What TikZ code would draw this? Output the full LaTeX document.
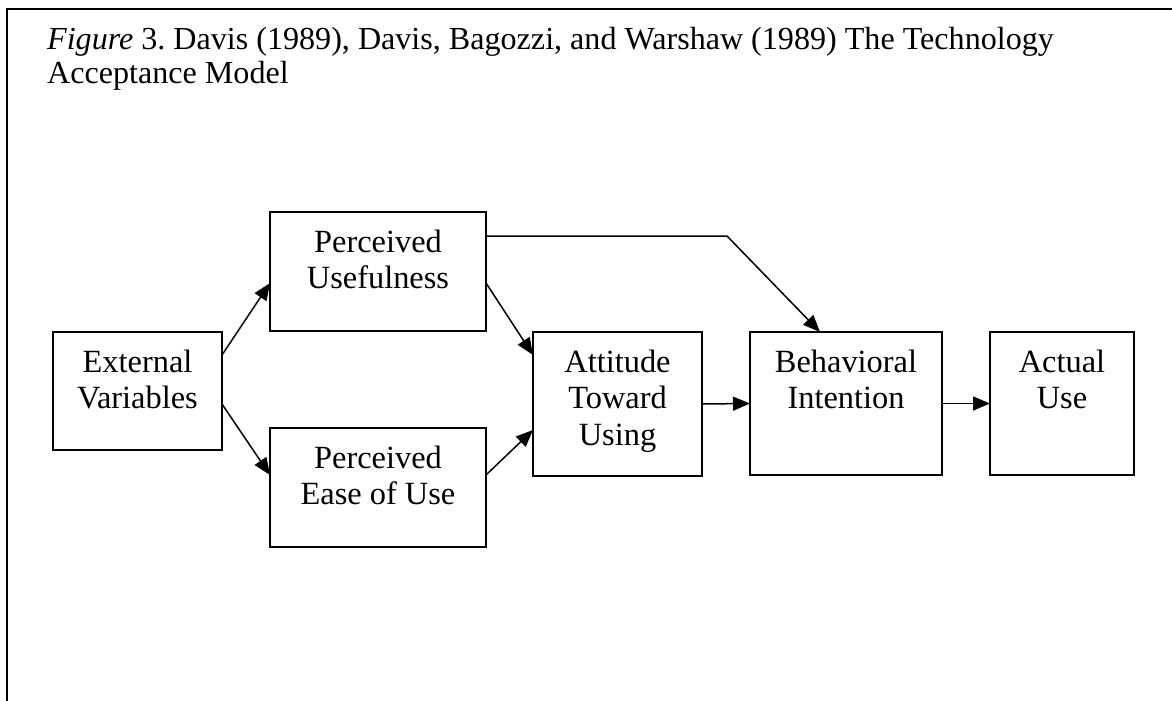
\documentclass[tikz,border=0pt]{standalone}
\usepackage{fontspec}
\setmainfont{Liberation Serif}
\usetikzlibrary{arrows.meta}
\frenchspacing
% fixed height for the first line of every text block, so baselines sit at known places
\newcommand\toprow{\rule{0pt}{25pt}}
\begin{document}
\begin{tikzpicture}[x=1pt,y=-1pt,
  box/.style={draw, line width=1.5pt, inner sep=0pt, outer sep=0pt},
  lbl/.style={font=\fontsize{32.4}{36.5}\selectfont, align=center, inner sep=0pt, anchor=north},
  caption/.style={font=\fontsize{32.1}{34}\selectfont, align=left, inner sep=0pt, anchor=north west},
  link/.style={line width=1.5pt, -{Triangle[length=17pt,width=14pt]}},
  frame/.style={line width=2.2pt}]
\useasboundingbox (0,0) rectangle (1172,701);

% open frame: left and top rules
\coordinate (fbl) at (7,702);
\coordinate (ftl) at (7,9);
\coordinate (ftr) at (1173,9);
\draw[frame] (fbl) -- (ftl) -- (ftr);

% caption
\node[caption] (title) at (47,24)
  {\toprow\textit{Figure} 3. Davis (1989), Davis, Bagozzi, and Warshaw (1989) The Technology\\Acceptance Model};

% boxes
\node[box, minimum width=169pt, minimum height=118pt] (ext)  at (137.5,391) {};
\node[box, minimum width=216pt, minimum height=119pt] (pu)   at (378,271.5) {};
\node[box, minimum width=216pt, minimum height=119pt] (peou) at (378,487.5) {};
\node[box, minimum width=169pt, minimum height=144pt] (atu)  at (617.5,404) {};
\node[box, minimum width=192pt, minimum height=143pt] (bi)   at (846,403.5) {};
\node[box, minimum width=144pt, minimum height=143pt] (au)   at (1062,403.5) {};

% box texts
\node[lbl] (extT)  at ([yshift=-15pt]ext.north)  {\toprow External\\Variables};
\node[lbl] (puT)   at ([yshift=-15pt]pu.north)   {\toprow Perceived\\Usefulness};
\node[lbl] (peouT) at ([yshift=-15pt]peou.north) {\toprow Perceived\\Ease of Use};
\node[lbl] (atuT)  at ([yshift=-15pt]atu.north)  {\toprow Attitude\\Toward\\Using};
\node[lbl] (biT)   at ([yshift=-15pt]bi.north)   {\toprow Behavioral\\Intention};
\node[lbl] (auT)   at ([yshift=-15pt]au.north)   {\toprow Actual\\Use};

% connectors
\coordinate (bend) at (727,236);
\draw[link] ([yshift=36pt]ext.east) -- ([yshift=-11.5pt]pu.west);
\draw[link] ([yshift=-13pt]ext.east) -- ([yshift=12.5pt]peou.west);
\draw[link] ([yshift=-11.5pt]pu.east) -- ([yshift=49pt]atu.west);
\draw[link] ([yshift=12.5pt]peou.east) -- ([yshift=-26pt]atu.west);
\draw[link] ([yshift=35.5pt]pu.east) -- (bend) -- ([xshift=-26pt]bi.north);
\draw[link] (atu.east) -- (bi.west);
\draw[link] (bi.east) -- (au.west);
\end{tikzpicture}
\end{document}
